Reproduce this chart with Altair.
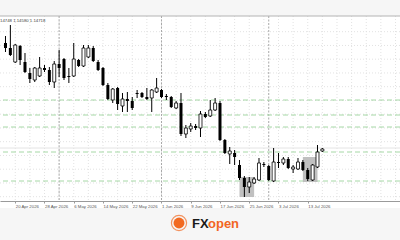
import altair as alt
import pandas as pd

# ---- daily candles (16 Apr 2026 .. 16 Jul 2026) ----
open_ = [1.1900, 1.1880, 1.1824, 1.1888, 1.1824, 1.1780, 1.1752, 1.1768, 1.1800, 1.1792,
         1.1744, 1.1816, 1.1836, 1.1768, 1.1768, 1.1832, 1.1808, 1.1844, 1.1880, 1.1824,
         1.1800, 1.1732, 1.1672, 1.1720, 1.1648, 1.1676, 1.1668, 1.1700, 1.1700, 1.1684,
         1.1680, 1.1704, 1.1712, 1.1688, 1.1684, 1.1640, 1.1660, 1.1536, 1.1556, 1.1568,
         1.1560, 1.1616, 1.1608, 1.1632, 1.1660, 1.1512, 1.1456, 1.1460, 1.1412, 1.1360,
         1.1324, 1.1340, 1.1352, 1.1416, 1.1408, 1.1348, 1.1424, 1.1420, 1.1436, 1.1396,
         1.1396, 1.1424, 1.1392, 1.1352, 1.1404, 1.1468]
high = [1.1928, 1.1972, 1.1896, 1.1892, 1.1860, 1.1800, 1.1804, 1.1844, 1.1812, 1.1804,
        1.1828, 1.1872, 1.1840, 1.1800, 1.1900, 1.1836, 1.1892, 1.1892, 1.1888, 1.1832,
        1.1804, 1.1740, 1.1720, 1.1724, 1.1700, 1.1704, 1.1684, 1.1712, 1.1704, 1.1720,
        1.1716, 1.1760, 1.1716, 1.1696, 1.1688, 1.1668, 1.1700, 1.1572, 1.1580, 1.1576,
        1.1628, 1.1624, 1.1672, 1.1680, 1.1668, 1.1516, 1.1484, 1.1472, 1.1432, 1.1368,
        1.1364, 1.1364, 1.1440, 1.1424, 1.1412, 1.1480, 1.1460, 1.1444, 1.1444, 1.1412,
        1.1440, 1.1432, 1.1400, 1.1416, 1.1492, 1.1480]
low = [1.1864, 1.1848, 1.1820, 1.1812, 1.1780, 1.1740, 1.1744, 1.1764, 1.1784, 1.1732,
       1.1720, 1.1764, 1.1752, 1.1740, 1.1764, 1.1804, 1.1804, 1.1840, 1.1824, 1.1788,
       1.1728, 1.1672, 1.1660, 1.1632, 1.1624, 1.1624, 1.1632, 1.1680, 1.1680, 1.1672,
       1.1624, 1.1700, 1.1680, 1.1672, 1.1640, 1.1636, 1.1528, 1.1520, 1.1544, 1.1552,
       1.1524, 1.1600, 1.1604, 1.1628, 1.1508, 1.1456, 1.1416, 1.1412, 1.1352, 1.1284,
       1.1300, 1.1336, 1.1348, 1.1404, 1.1348, 1.1344, 1.1400, 1.1412, 1.1396, 1.1380,
       1.1392, 1.1388, 1.1348, 1.1348, 1.1400, 1.1464]
close = [1.1880, 1.1852, 1.1892, 1.1832, 1.1784, 1.1756, 1.1800, 1.1800, 1.1792, 1.1744,
         1.1816, 1.1800, 1.1760, 1.1764, 1.1836, 1.1808, 1.1880, 1.1880, 1.1828, 1.1792,
         1.1732, 1.1676, 1.1716, 1.1656, 1.1676, 1.1668, 1.1640, 1.1696, 1.1684, 1.1676,
         1.1712, 1.1720, 1.1684, 1.1684, 1.1644, 1.1660, 1.1536, 1.1560, 1.1568, 1.1560,
         1.1616, 1.1604, 1.1632, 1.1660, 1.1512, 1.1460, 1.1468, 1.1444, 1.1360, 1.1324,
         1.1344, 1.1356, 1.1420, 1.1412, 1.1352, 1.1424, 1.1420, 1.1436, 1.1400, 1.1404,
         1.1424, 1.1392, 1.1356, 1.1412, 1.1464, 1.1476]

# x-axis labels (candle index -> date)
label_idx = [2, 8, 14, 20, 26, 32, 38, 44, 50, 56, 62]
label_txt = ["20 Apr 2026", "28 Apr 2026", "6 May 2026", "14 May 2026", "22 May 2026",
             "1 Jun 2026", "9 Jun 2026", "17 Jun 2026", "25 Jun 2026", "3 Jul 2026",
             "13 Jul 2026"]
# month separators (1 May, 1 Jun, 1 Jul)
sep_idx = [11, 32, 54]
# grid
grid_x = list(range(2, 81, 3))
grid_y = [1.19452, 1.18902, 1.18352, 1.17802, 1.17252, 1.16702, 1.16152, 1.15602,
          1.15052, 1.14502, 1.13952, 1.13402, 1.12852]
# horizontal levels (green dashed) and bid line
levels = [1.1672, 1.1612, 1.1564, 1.1464, 1.1348]
bid = [1.1480]
# shaded zones
zone_x1 = [48, 61]
zone_x2 = [51, 64]
zone_y1 = [1.1364, 1.1444]
zone_y2 = [1.1284, 1.1344]
header_text = "14748 1.14580 1.14718"

n = len(open_)
df = pd.DataFrame({"i": list(range(n)), "o": open_, "h": high, "l": low, "c": close})
df["top"] = df[["o", "c"]].max(axis=1)
df["bot"] = df[["o", "c"]].min(axis=1)
df["up"] = df["c"] >= df["o"]

XS = alt.Scale(domain=[-0.1, 79.9], nice=False, zero=False)
YS = alt.Scale(domain=[1.1268, 1.2008], nice=False, zero=False)

lbl_expr = "[" + ",".join("'" + t + "'" for t in label_txt) + "][indexof([" + \
    ",".join(str(v) for v in label_idx) + "], datum.value)]"

XA = alt.Axis(
    values=label_idx, labelExpr=lbl_expr, grid=False, domain=True,
    domainColor="#9a9a9a", domainWidth=1, ticks=True, tickSize=2,
    tickColor="#9a9a9a", labelFontSize=4.3, labelFont="Liberation Sans",
    labelColor="#555555", labelAlign="left", labelBaseline="top",
    labelPadding=1, labelOverlap=False, labelFlush=False, title=None, zindex=1)

one = pd.DataFrame({"k": [0]})

gx = alt.Chart(pd.DataFrame({"x": grid_x})).mark_rule(
    color="#e2e2e2", strokeDash=[1, 2], strokeWidth=1).encode(
    x=alt.X("x:Q", scale=XS, axis=XA))
gy = alt.Chart(pd.DataFrame({"y": grid_y})).mark_rule(
    color="#e2e2e2", strokeDash=[1, 2], strokeWidth=1).encode(
    y=alt.Y("y:Q", scale=YS, axis=None))
seps = alt.Chart(pd.DataFrame({"x": sep_idx})).mark_rule(
    color="#a8a8a8", strokeDash=[2, 1.5], strokeWidth=1).encode(
    x=alt.X("x:Q", scale=XS, axis=XA))
lev = alt.Chart(pd.DataFrame({"y": levels})).mark_rule(
    color="#a6d8a6", strokeDash=[5, 3], strokeWidth=1).encode(
    y=alt.Y("y:Q", scale=YS, axis=None))
bidl = alt.Chart(pd.DataFrame({"y": bid})).mark_rule(
    color="#e4e4e4", strokeWidth=1).encode(
    y=alt.Y("y:Q", scale=YS, axis=None))
zones = alt.Chart(pd.DataFrame({"x1": zone_x1, "x2": zone_x2, "y1": zone_y1, "y2": zone_y2})).mark_rect(
    color="#b9b9b9", opacity=0.9).encode(
    x=alt.X("x1:Q", scale=XS, axis=XA), x2="x2:Q",
    y=alt.Y("y1:Q", scale=YS, axis=None), y2="y2:Q")

wick = alt.Chart(df).mark_rule(color="black", strokeWidth=1, clip=True).encode(
    x=alt.X("i:Q", scale=XS, axis=XA),
    y=alt.Y("l:Q", scale=YS, axis=None), y2="h:Q")
body_dn = alt.Chart(df).transform_filter("!datum.up").mark_bar(
    color="black", size=3, clip=True).encode(
    x=alt.X("i:Q", scale=XS, axis=XA), y=alt.Y("top:Q", scale=YS, axis=None), y2="bot:Q")
body_up = alt.Chart(df).transform_filter("datum.up").mark_bar(
    fill="white", stroke="black", strokeWidth=0.8, size=3, clip=True).encode(
    x=alt.X("i:Q", scale=XS, axis=XA), y=alt.Y("top:Q", scale=YS, axis=None), y2="bot:Q")

top_line = alt.Chart(one).mark_rule(color="#b4b4b4", strokeWidth=1).encode(
    y=alt.value(0), x=alt.value(0), x2=alt.value(400))
strip = alt.Chart(one).mark_rect(color="white").encode(
    x=alt.value(0), x2=alt.value(400), y=alt.value(185.5), y2=alt.value(192))
head = alt.Chart(pd.DataFrame({"t": [header_text]})).mark_text(
    align="left", baseline="alphabetic", fontSize=4.3, font="Liberation Sans",
    color="#444444").encode(x=alt.value(0), y=alt.value(5.5), text="t:N")

logo_ring = alt.Chart(one).mark_point(
    shape="circle", size=230, filled=False, stroke="#f26a21", strokeWidth=1.2).encode(
    x=alt.value(179), y=alt.value(207))
logo_dot = alt.Chart(one).mark_point(
    shape="circle", size=120, filled=True, color="#f26a21", opacity=1).encode(
    x=alt.value(179), y=alt.value(207))
logo_fx = alt.Chart(pd.DataFrame({"t": ["FX"]})).mark_text(
    align="left", baseline="alphabetic", fontSize=13, fontWeight="bold",
    font="Liberation Sans", color="#1a1a1a").encode(
    x=alt.value(192), y=alt.value(212), text="t:N")
logo_open = alt.Chart(pd.DataFrame({"t": ["open"]})).mark_text(
    align="left", baseline="alphabetic", fontSize=13, fontWeight="bold",
    font="Liberation Sans", color="#f26522").encode(
    x=alt.value(208), y=alt.value(212), text="t:N")

chart = alt.layer(
    strip, gx, gy, seps, lev, bidl, zones, wick, body_dn, body_up,
    top_line, head, logo_ring, logo_dot, logo_fx, logo_open
).properties(
    width=400, height=185,
    padding={"left": 0, "top": 16, "right": 0, "bottom": 39},
    autosize=alt.AutoSizeParams(type="none"),
    background="#f6f6f6",
).configure_view(fill="white", strokeWidth=0)

chart.save("out.html", embed_options={"renderer": "svg", "actions": False})
